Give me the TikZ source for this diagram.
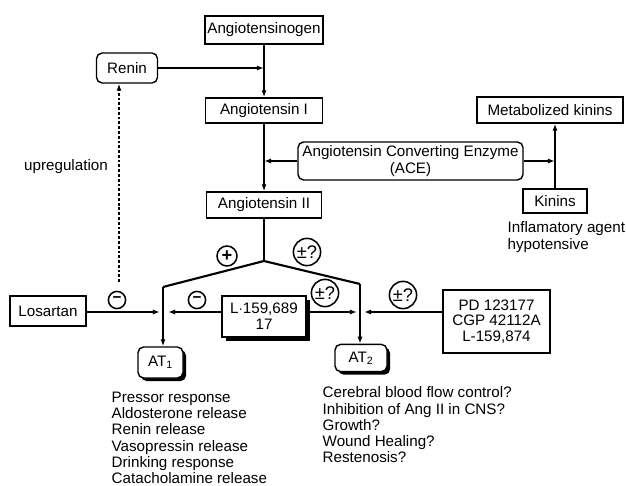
\documentclass[tikz,border=0pt]{standalone}
\usepackage{fontspec}
\setmainfont{Liberation Sans}
\usetikzlibrary{arrows.meta,shadows}

\begin{document}
\begin{tikzpicture}[x=0.025cm, y=-0.025cm,
  font=\fontsize{10.8}{12.2}\selectfont,
  >={Latex[length=5pt,width=3.6pt]},
  line width=1pt,
  sqbox/.style={draw, rectangle, inner sep=1pt, fill=white},
  rbox/.style={draw, rounded corners=4pt, inner sep=1pt, fill=white},
  shbox/.style={rbox, drop shadow={shadow xshift=2.2pt, shadow yshift=-2.2pt,
                fill=black, opacity=1}},
  sign/.style={draw, circle, inner sep=0pt, fill=white, line width=1.1pt},
  pmsign/.style={sign, minimum size=0.68cm, font=\fontsize{13}{13}\selectfont},
  branch/.style={line width=1.5pt},
  regdash/.style={dash pattern=on 2pt off 1.4pt},
  fxlist/.style={anchor=north west, align=left, inner sep=0pt,
                 font=\fontsize{10.8}{11.6}\selectfont}
]

\useasboundingbox (0,0) rectangle (626,486);

% =====================================================================
% Renin -- angiotensin cascade (main column at x = 264)
% =====================================================================
\node[sqbox, minimum width=2.95cm, minimum height=0.7cm]
  (agen) at (264,30) {Angiotensinogen};
\node[rbox, minimum width=1.525cm, minimum height=0.75cm]
  (renin) at (127,68) {Renin};
\node[sqbox, minimum width=2.925cm, minimum height=0.625cm]
  (ang1) at (264,110.5) {Angiotensin I};
\node[rbox, minimum width=5.625cm, minimum height=0.95cm, align=center,
      font=\fontsize{10.8}{11.5}\selectfont]
  (ace) at (410.5,161) {Angiotensin Converting Enzyme\\(ACE)};
\node[sqbox, minimum width=2.875cm, minimum height=0.65cm]
  (ang2) at (264,205) {Angiotensin II};

\draw[->] (agen.south) -- (ang1.north);
\draw[->] (renin.east) -- (renin.east -| agen.south);
\draw[->] (ang1.south) -- (ang2.north);
\draw[->] (ace.west) -- (ace.west -| ang1.south);

% =====================================================================
% Kinin branch (right)
% =====================================================================
\node[sqbox, minimum width=3.65cm, minimum height=0.65cm]
  (metk) at (550,110) {Metabolized kinins};
\node[sqbox, minimum width=1.6cm, minimum height=0.6cm]
  (kinins) at (555,201) {Kinins};
\node[anchor=north west, align=left, inner sep=0pt]
  (kinlab) at (507,221) {Inflamatory agent\\hypotensive};

\draw[->] (kinins.north) -- (kinins.north |- metk.south);
\draw[->] (ace.east) -- (ace.east -| kinins.north);

% =====================================================================
% Receptor fork: Ang II splits to AT1 (left) and AT2 (right)
% =====================================================================
\coordinate (apex) at (264,261);
\coordinate (lj) at (163,287);
\coordinate (rj) at (360,284);

\node[shbox, minimum width=1.125cm, minimum height=0.775cm]
  (at1) at (160.5,362.5) {AT\textsubscript{1}};
\node[shbox, minimum width=1.3cm, minimum height=0.68cm]
  (at2) at (361,358) {AT\textsubscript{2}};

\draw (ang2.south) -- (apex);
\draw[branch] (lj) -- (apex) -- (rj);
\draw[->] (lj) -- (lj |- at1.north);
\draw[->] (rj) -- (rj |- at2.north);

% =====================================================================
% Antagonists on the horizontal line (y = 312)
% =====================================================================
\coordinate (jla) at (160,312);
\coordinate (jlb) at (168,312);
\coordinate (jra) at (357,312);
\coordinate (jrb) at (364,312);

\node[sqbox, minimum width=1.9cm, minimum height=0.75cm]
  (losartan) at (48,311) {Losartan};
\node[sqbox, minimum width=2.1cm, minimum height=1.025cm, align=center,
      font=\fontsize{10.8}{11.5}\selectfont,
      drop shadow={shadow xshift=3pt, shadow yshift=-3pt, fill=black, opacity=1}]
  (lbox) at (264,316.5) {L$\cdot$159,689\\17};
\node[sqbox, minimum width=2.675cm, minimum height=1.575cm, align=center,
      font=\fontsize{10.8}{11.2}\selectfont]
  (pd) at (496.5,321.5) {PD 123177\\CGP 42112A\\L-159,874};

\draw[->] (losartan.east |- jla) -- (jla);
\draw[->] (lbox.west |- jlb) -- (jlb);
\draw[->] (lbox.east |- jra) -- (jra);
\draw[->] (pd.west |- jrb) -- (jrb);

% upregulation feedback to Renin
\coordinate (upr) at (119,282);
\draw[->, regdash] (upr) -- (upr |- renin.south);
\node (uplab) at (66,167) {upregulation};

% =====================================================================
% Sign markers
% =====================================================================
\node[sign, minimum size=0.43cm] (mlos) at (117,300) {\textbf{−}};
\node[sign, minimum size=0.43cm] (ml) at (197,300) {\textbf{−}};
\node[sign, minimum size=0.5cm, font=\fontsize{13}{13}\selectfont\bfseries]
  (pl) at (227,256) {+};
\node[pmsign] (pmtop) at (307,252) {±?};
\node[pmsign] (pmmid) at (325,293) {±?};
\node[pmsign] (pmpd) at (403,295) {±?};

% =====================================================================
% Receptor effects
% =====================================================================
\node[fxlist] (at1fx) at (111,391)
  {Pressor response\\Aldosterone release\\Renin release\\
   Vasopressin release\\Drinking response\\Catacholamine release};
\node[fxlist] (at2fx) at (322,386)
  {Cerebral blood flow control?\\Inhibition of Ang II in CNS?\\Growth?\\
   Wound Healing?\\Restenosis?};

\end{tikzpicture}
\end{document}
